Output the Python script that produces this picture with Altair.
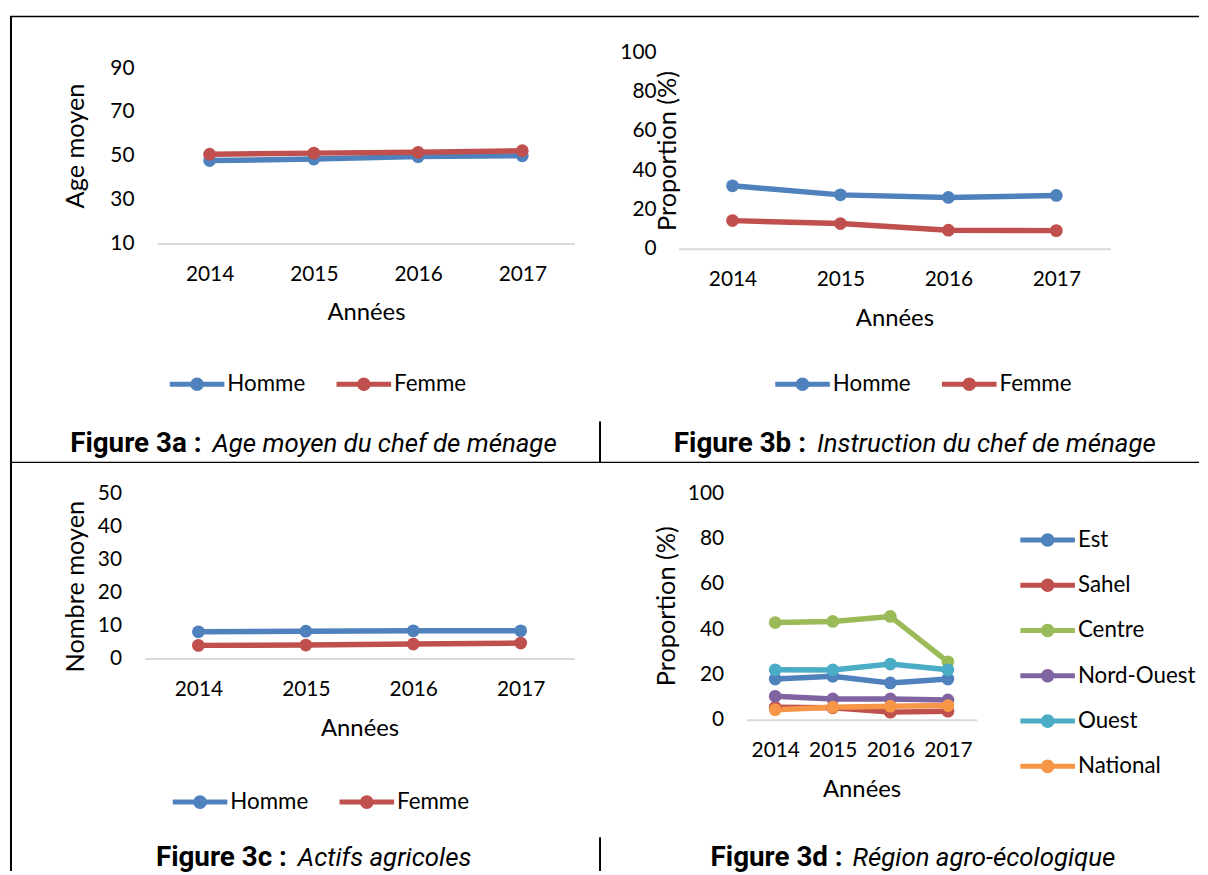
import altair as alt
import pandas as pd

years = ["2014", "2015", "2016", "2017"]

sexes = ["Homme", "Femme"]
sex_colors = ["#4F81BD", "#C0504D"]

age_homme = [47.8, 48.5, 49.6, 50.0]
age_femme = [50.7, 51.2, 51.6, 52.3]

instr_homme = [32.0, 27.4, 26.1, 27.1]
instr_femme = [14.3, 12.8, 9.4, 9.2]

actifs_homme = [8.1, 8.3, 8.4, 8.4]
actifs_femme = [4.0, 4.1, 4.4, 4.7]

regions = ["Est", "Sahel", "Centre", "Nord-Ouest", "Ouest", "National"]
region_colors = ["#4F81BD", "#C0504D", "#9BBB59", "#8064A2", "#4BACC6", "#F79646"]
reg_est = [18.0, 19.2, 16.3, 18.0]
reg_sahel = [5.6, 5.3, 3.4, 3.8]
reg_centre = [42.9, 43.4, 45.6, 25.6]
reg_nord_ouest = [10.4, 9.2, 9.2, 8.8]
reg_ouest = [22.1, 22.0, 24.6, 22.1]
reg_national = [4.5, 5.6, 6.0, 6.3]

FONT = "Lato"
CAP_FONT = "Roboto"

W = 595
H1 = 449
H2 = 412

# legend symbol: line with a filled disc (rings)
SYM = ("M-2.75,0L2.75,0"
       "M0.44,0A0.44,0.44,0,1,1,-0.44,0A0.44,0.44,0,1,1,0.44,0"
       "M0.15,0A0.15,0.15,0,1,1,-0.15,0A0.15,0.15,0,1,1,0.15,0")


def long_df(names, series):
    rows = []
    for n, vals in zip(names, series):
        for yr, v in zip(years, vals):
            rows.append({"annee": yr, "serie": n, "valeur": v})
    return pd.DataFrame(rows)


ONE = alt.Data(values=[{"k": 0}])


def rule(x1, x2, y1, y2, w):
    return alt.Chart(ONE).mark_rule(color="black", strokeWidth=w).encode(
        x=alt.value(x1), x2=alt.value(x2), y=alt.value(y1), y2=alt.value(y2))


def caption(bold, ital, bx, ix, yb):
    t1 = alt.Chart(ONE).mark_text(text=bold, font=CAP_FONT, fontWeight="bold", fontSize=28,
                                  align="right", baseline="alphabetic", color="black").encode(
        x=alt.value(bx), y=alt.value(yb))
    t2 = alt.Chart(ONE).mark_text(text=ital, font=CAP_FONT, fontStyle="italic", fontSize=26,
                                  align="left", baseline="alphabetic", color="black").encode(
        x=alt.value(ix), y=alt.value(yb))
    return [t1, t2]


def panel(df, names, colors, H, xr, yr, ydom, yticks, ytitle, ylab_pad, ytx, yty, leg, extras):
    xax = alt.Axis(title="Années", labelAngle=0, ticks=False, tickSize=0, grid=False,
                   domainColor="#D9D9D9", domainWidth=2, labelPadding=31, labelBaseline="middle",
                   titleY=70, titleBaseline="middle", titleFontSize=24, offset=-(H - yr[0]))
    yax = alt.Axis(title=ytitle, values=yticks, ticks=False, tickSize=0, grid=False, domain=False,
                   labelPadding=ylab_pad, offset=-xr[0], titleX=ytx, titleY=yty, titleAngle=270,
                   titleBaseline="middle", titleAlign="center", titleFontSize=25.5)
    base = alt.Chart(df).mark_line(
        strokeWidth=5.5, point=alt.OverlayMarkDef(filled=True, size=165, opacity=1)
    ).encode(
        x=alt.X("annee:O", scale=alt.Scale(type="point", padding=0.5, range=list(xr)), axis=xax),
        y=alt.Y("valeur:Q", scale=alt.Scale(domain=ydom, range=list(yr), nice=False, zero=False), axis=yax),
        color=alt.Color("serie:N", scale=alt.Scale(domain=names, range=colors),
                        legend=alt.Legend(title=None, orient="none", symbolType=SYM, symbolSize=400,
                                          symbolStrokeWidth=5, padding=0, labelOffset=18, **leg)),
    )
    return alt.layer(base, *extras).properties(width=W, height=H)


leg_h = dict(direction="horizontal", columnPadding=21)

pa = panel(long_df(sexes, [age_homme, age_femme]), sexes, sex_colors, H1,
           (147.6, 567.7), (228.7, 52), [10, 90], [10, 30, 50, 70, 90], "Age moyen", 23.6,
           65 - 147.6, 130, dict(legendX=175, legendY=358, **leg_h),
           caption("Figure 3a :", "Age moyen du chef de ménage", 192, 203, 439)
           + [rule(-1, 1197, 0, 0, 1.5), rule(0, 0, 0, 861, 2), rule(-1, 1197, 449.3, 449.3, 1.3),
              rule(593.5, 593.5, 408, 449.3, 2), rule(593.5, 593.5, 827, 861, 2)])

pb = panel(long_df(sexes, [instr_homme, instr_femme]), sexes, sex_colors, H1,
           (77.6, 512.6), (234, 36), [0, 100], [0, 20, 40, 60, 80, 100], "Proportion (%)", 22.6,
           67 - 77.6, 135, dict(legendX=190, legendY=358, **leg_h),
           caption("Figure 3b :", "Instruction du chef de ménage", 206, 217, 439))

pc = panel(long_df(sexes, [actifs_homme, actifs_femme]), sexes, sex_colors, H2,
           (134.7, 567.7), (198, 31.3), [0, 50], [0, 10, 20, 30, 40, 50], "Nombre moyen", 23.3,
           65 - 134.7, 125, dict(legendX=178, legendY=330, **leg_h),
           caption("Figure 3c :", "Actifs agricoles", 278, 289, 407))

pd_ = panel(long_df(regions, [reg_est, reg_sahel, reg_centre, reg_nord_ouest, reg_ouest, reg_national]),
            regions, region_colors, H2,
            (146, 378), (259.7, 31.3), [0, 100], [0, 20, 40, 60, 80, 100], "Proportion (%)", 23,
            65.6 - 146, 144.7, dict(legendX=437, legendY=66, direction="vertical", rowPadding=16.6),
            caption("Figure 3d :", "Région agro-écologique", 243, 253, 407))

chart = alt.concat(pa, pb, pc, pd_, columns=2, spacing=0, bounds="flush", align="each").resolve_scale(
    color="independent").resolve_legend(color="independent").properties(
    padding={"left": 1, "top": 4.25, "right": 0, "bottom": 0}
).configure_view(strokeWidth=0).configure_axis(
    labelFont=FONT, labelFontSize=21, labelColor="#000000",
    titleFont=FONT, titleFontWeight="normal", titleColor="#000000"
).configure_legend(labelFont=FONT, labelFontSize=22.5, labelColor="#000000")

chart.save("out.html", embed_options={"renderer": "svg", "actions": False})
